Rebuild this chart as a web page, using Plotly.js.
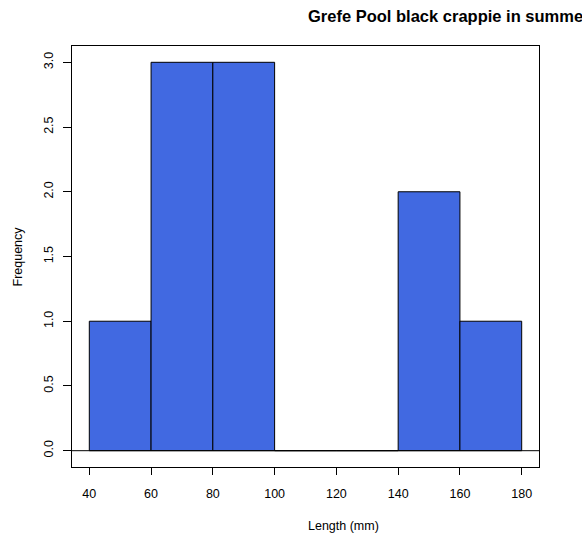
<!DOCTYPE html>
<html>
<head>
<meta charset="utf-8">
<script src="https://cdn.plot.ly/plotly-3.0.1.min.js"></script>
<style>html,body{margin:0;padding:0;background:#fff;}</style>
</head>
<body>
<div id="chart" style="width:582px;height:537px;"></div>
<script>
// Histogram bins (left edges, width 20 mm) and counts
var binLeft = [40, 60, 80, 100, 120, 140, 160];
var binWidth = 20;
var counts = [1, 3, 3, 0, 0, 2, 1];
var xTicks = [40, 60, 80, 100, 120, 140, 160, 180];
var yTicks = [0, 0.5, 1, 1.5, 2, 2.5, 3];
var yTickText = ['0.0', '0.5', '1.0', '1.5', '2.0', '2.5', '3.0'];
var titleText = 'Grefe Pool black crappie in summer';
var xTitle = 'Length (mm)';
var yTitle = 'Frequency';

var centers = binLeft.map(function (b) { return b + binWidth / 2; });

var trace = {
  type: 'bar',
  x: centers,
  y: counts,
  width: binWidth,
  marker: { color: '#4169E1', line: { color: '#000000', width: 1 } },
  hoverinfo: 'x+y'
};

var font = { family: 'Liberation Sans, Arial, sans-serif', size: 12.5, color: '#000' };

var layout = {
  width: 582,
  height: 537,
  margin: { l: 72, r: 43, t: 46, b: 70, pad: 0 },
  paper_bgcolor: '#fff',
  plot_bgcolor: '#fff',
  showlegend: false,
  bargap: 0,
  font: font,
  xaxis: {
    range: [34.4, 185.6],
    tickvals: xTicks,
    ticktext: xTicks.map(String),
    ticks: 'outside',
    ticklen: 7,
    tickwidth: 1,
    tickcolor: '#000',
    showline: true,
    mirror: true,
    linecolor: '#000',
    linewidth: 1,
    showgrid: false,
    zeroline: false,
    tickfont: font,
    ticklabelstandoff: 8
  },
  yaxis: {
    range: [-0.126, 3.126],
    tickvals: yTicks,
    ticktext: yTickText,
    ticks: 'outside',
    ticklen: 8,
    tickwidth: 1,
    tickcolor: '#000',
    tickangle: -90,
    showline: true,
    mirror: true,
    linecolor: '#000',
    linewidth: 1,
    showgrid: false,
    zeroline: false,
    tickfont: font,
    ticklabelstandoff: 5
  },
  shapes: [
    { type: 'line', xref: 'paper', yref: 'y', x0: 0, x1: 1, y0: 0, y1: 0,
      line: { color: '#000', width: 1 } }
  ],
  annotations: [
    { text: '<b>' + titleText + '</b>', xref: 'paper', yref: 'paper',
      x: 0.5004, y: 1, xanchor: 'left', yanchor: 'middle', yshift: 30,
      showarrow: false, font: { family: 'Liberation Sans, Arial, sans-serif', size: 16.5, color: '#000' } },
    { text: xTitle, xref: 'paper', yref: 'paper',
      x: 0.5016, y: 0, xanchor: 'left', yanchor: 'middle', yshift: -59,
      showarrow: false, font: font },
    { text: yTitle, xref: 'paper', yref: 'paper', textangle: -90,
      x: 0, y: 0.5, xanchor: 'center', yanchor: 'middle', xshift: -55,
      showarrow: false, font: font }
  ]
};

Plotly.newPlot('chart', [trace], layout, { displayModeBar: false, staticPlot: true });
</script>
</body>
</html>
